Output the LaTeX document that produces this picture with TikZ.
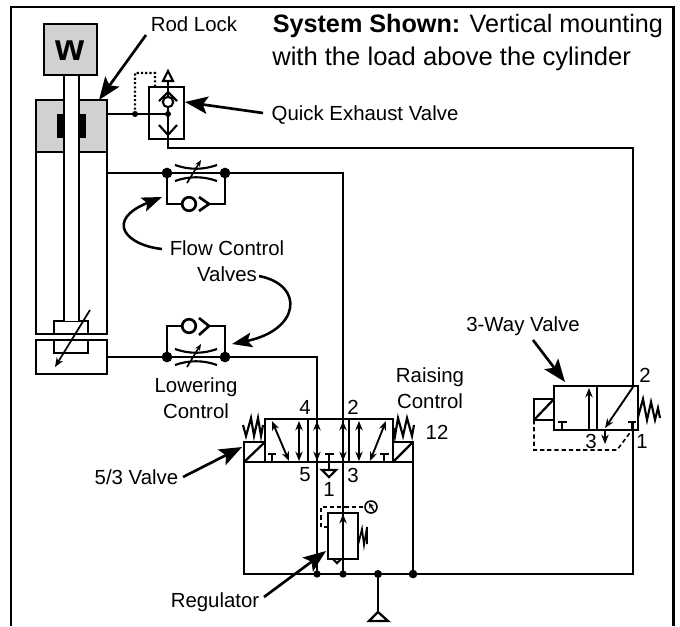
\documentclass[tikz,border=0pt]{standalone}
\usepackage{fontspec}
\setmainfont{Liberation Sans}
\usetikzlibrary{arrows.meta,calc}
\definecolor{lockgray}{gray}{0.82}
\tikzset{
 x=0.75pt,y=-0.75pt,
 frameline/.style={line width=2.2pt,draw=black},
 pipe/.style={line width=1.6pt,draw=black},
 thin pipe/.style={line width=1.3pt,draw=black},
 box/.style={line width=1.7pt,draw=black},
 heavy/.style={line width=2pt,draw=black},
 dash pilot/.style={line width=1.2pt,draw=black,dash pattern=on 3.2pt off 2.2pt},
 dot pilot/.style={line width=1.6pt,draw=black,dash pattern=on 1.6pt off 1.6pt},
 leader/.style={line width=2pt,draw=black,-{Stealth[length=17pt,width=13pt,inset=3.5pt]}},
 curved leader/.style={line width=1.9pt,draw=black,-{Stealth[length=15pt,width=11pt,inset=3pt]}},
 flowarrow/.style={line width=1.4pt,draw=black,{Stealth[length=7pt,width=5.5pt]}-{Stealth[length=7pt,width=5.5pt]}},
 onearrow/.style={line width=1.4pt,draw=black,-{Stealth[length=7pt,width=5.5pt]}},
 joint/.style={circle,fill=black,inner sep=0pt,minimum size=4.5pt},
 bigjoint/.style={circle,fill=black,inner sep=0pt,minimum size=8pt},
 midjoint/.style={circle,fill=black,inner sep=0pt,minimum size=6pt},
 lab/.style={inner sep=0pt,font=\fontsize{15.3pt}{18pt}\selectfont,align=center},
 title/.style={inner sep=0pt,anchor=base west,font=\fontsize{19.2pt}{23pt}\selectfont},
}
\newcommand{\needle}[2]{%
 \draw[pipe] (#1-21,#2-8) .. controls (#1-7,#2-3) and (#1+7,#2-3) .. (#1+21,#2-8);
 \draw[pipe] (#1-21,#2+8) .. controls (#1-7,#2+3) and (#1+7,#2+3) .. (#1+21,#2+8);
 \draw[line width=1.2pt,-{Stealth[length=5pt,width=4pt]}] (#1-9,#2+10) -- (#1+5,#2-13);
}
\begin{document}
\begin{tikzpicture}
\useasboundingbox (0,0) rectangle (680,626);
% frame
\draw[frameline] (11,626) -- (11,7) -- (673.5,7) -- (673.5,626);
% junction names
\coordinate (lockout) at (107,114);
\coordinate (qevcentre) at (168,114);
\coordinate (upperleft) at (107,173);
\coordinate (lowerleft) at (107,357);
\coordinate (mainleft) at (244,574);
\coordinate (mainright) at (633,574);
% cylinder
\draw[box,fill=lockgray] (44,24) rectangle (97,75);
\node[inner sep=0pt,font=\fontsize{28pt}{28pt}\bfseries\selectfont] (w) at (70.5,50.5) {w};
\draw[box] (36,152) rectangle (107,334);
\draw[box,fill=lockgray] (36,100) rectangle (107,152);
\fill[black] (57,114) rectangle (64,138);
\fill[black] (79,114) rectangle (86,138);
\draw[box,fill=white] (54,321) rectangle (88,334);
\draw[box] (36,340) rectangle (107,374);
\draw[box] (54,340) rectangle (88,353);
\fill[white] (64.5,75.8) rectangle (78.5,321);
\draw[box] (64,75) -- (64,321);
\draw[box] (79,75) -- (79,321);
\draw[line width=1.3pt,-{Stealth[length=7pt,width=5.5pt]}] (90,310) -- (55,367);
% Quick exhaust valve
\draw[box] (149,87) rectangle (184,139);
\draw[pipe] (lockout) -- node[pos=0.46,joint] (qj) {} (qevcentre) node[joint] {};
\draw[dot pilot] (qj.center) -- (135,73) -- (155,73) -- (155,87);
\draw[pipe] (168,81) -- (168,97);
\draw[pipe,fill=white] (168,71) -- (163,81) -- (173,81) -- cycle;
\draw[pipe,fill=white] (168,102) circle (5.2);
\draw[pipe] (159,101) -- (168,92) -- (177,101);
\draw[pipe] (168,107) -- (168,148) -- (mainright |- 0,148) -- (633,386);
\draw[pipe] (159,125) -- (168,135) -- (177,125);
% upper flow control
\coordinate (fu1) at (167,173);
\coordinate (fu2) at (225,173);
\coordinate (topdrop) at (343,173);
\draw[thin pipe] (upperleft) -- (topdrop) -- (343,574);
\draw[heavy] (fu1) -- (167,204) -- (182,204);
\draw[heavy] (208,204) -- (225,204) -- (fu2);
\draw[heavy] (199,197) -- (209,204) -- (199,211);
\draw[heavy] (189,204) circle (6.8);
\node[bigjoint] at (fu1) {};
\node[bigjoint] at (fu2) {};
\needle{196}{173}
% lower flow control
\coordinate (fl1) at (167,357);
\coordinate (fl2) at (225,357);
\coordinate (lowdrop) at (317,357);
\draw[thin pipe] (lowerleft) -- (lowdrop) -- (317,574);
\draw[heavy] (fl1) -- (167,326) -- (182,326);
\draw[heavy] (208,326) -- (225,326) -- (fl2);
\draw[heavy] (199,318) -- (209,326) -- (199,335);
\draw[heavy] (189,326) circle (6.8);
\node[bigjoint] at (fl1) {};
\node[bigjoint] at (fl2) {};
\needle{196}{357}
% 5/3 valve
\draw[box] (265,419) rectangle (393,462);
\draw[box] (244,462) -- (413,462);
\draw[box] (308,419) -- (308,462);
\draw[box] (349,419) -- (349,462);
\draw[box] (244,442) rectangle (265,462);
\draw[box] (244,462) -- (265,442);
\draw[box] (393,442) rectangle (413,462);
\draw[box] (393,462) -- (413,442);
\draw[pipe,line join=miter] (243,425) -- (246,436) -- (251,418) -- (254,436) -- (258,418) -- (261,436) -- (263,425);
\draw[pipe,line join=miter] (414,425) -- (412,436) -- (407,418) -- (403,436) -- (398,418) -- (395,436) -- (394,428);
\draw[flowarrow] (272,421) -- (289,461);
\draw[flowarrow] (299,421) -- (299,461);
\draw[flowarrow] (317,421) -- (317,461);
\draw[flowarrow] (343,421) -- (343,461);
\draw[flowarrow] (359,421) -- (359,461);
\draw[flowarrow] (386,421) -- (370,461);
\draw[line width=2pt] (272,462) -- (272,455);
\draw[line width=1.8pt] (268,454) -- (276,454);
\draw[line width=2pt] (384,462) -- (384,455);
\draw[line width=1.8pt] (380,454) -- (389,454);
\draw[line width=1.2pt] (329,454) -- (329,470);
\draw[line width=1.8pt] (325,454) -- (334,454);
\draw[pipe] (322,470) -- (336,470) -- (329,477) -- cycle;
\draw[box] (244,462) -- (mainleft) -- (mainright) -- (633,422);
\draw[box] (413,462) -- (413,574);
\node[joint,minimum size=5.5pt] (j1) at (317,574) {};
\node[joint,minimum size=5.5pt] (j2) at (343,574) {};
\node[midjoint] (j3) at (378,574) {};
\node[bigjoint,minimum size=6.5pt] (j4) at (413,574) {};
\coordinate (tri) at (378,612);
\draw[pipe] (j3) -- (tri);
\draw[box] (tri) -- (369,621) -- (388,621) -- cycle;
% regulator
\draw[box] (328,513) rectangle (358,559);
\draw[onearrow] (343,540) -- (343,514);
\draw[pipe] (333,559) -- (337,563) -- (341,559);
\draw[dash pilot] (328,527) -- (321,527) -- (321,507) -- (365,507);
\draw[line width=1.2pt] (371,507) circle (6);
\draw[line width=1pt,-{Stealth[length=4pt,width=4pt]}] (374,511) -- (369,503);
\draw[line width=1.3pt,line join=miter] (358,545) -- (362,529) -- (364,545) -- (367,527) -- (367,544);
% 3-way valve
\draw[box] (554,386) rectangle (638,430);
\draw[box] (597,386) -- (597,430);
\draw[box] (534,399) rectangle (554,420);
\draw[box] (534,420) -- (554,399);
\draw[onearrow] (589,430) -- (589,388);
\draw[onearrow] (633,387) -- (605,428);
\draw[onearrow] (605,429) -- (605,444);
\draw[line width=2pt] (562,430) -- (562,423);
\draw[line width=1.8pt] (558,422) -- (567,422);
\draw[line width=2pt] (632,430) -- (632,423);
\draw[line width=1.8pt] (628,422) -- (636,422);
\draw[dash pilot] (534,420) -- (534,450) -- (617,450) -- (632,430);
\draw[pipe,line join=miter] (638,417) -- (643,399) -- (647,420) -- (651,402) -- (655,420) -- (658,408) -- (660,418);
% labels
\node[lab] (rodlock) at (194,24) {Rod Lock};
\node[title] (sys1) at (272.5,32) {\fontsize{18.9pt}{23pt}\selectfont{\bfseries System Shown:} Vertical mounting};
\node[title] (sys2) at (272,65) {with the load above the cylinder};
\node[lab] (qev) at (365,115) {Quick Exhaust Valve};
\node[lab] (fcv) at (227,261) {Flow Control\\[1.5pt]Valves};
\node[lab] (lowering) at (196,398) {Lowering\\[1.5pt]Control};
\node[lab] (raising) at (430,388) {Raising\\[1.5pt]Control};
\node[lab] (threeway) at (523,326) {3-Way Valve};
\node[lab] (fivethree) at (136.5,477) {5/3 Valve};
\node[lab] (regulator) at (215,602) {Regulator};
\node[lab] at (305,407) {4};
\node[lab] at (353,407) {2};
\node[lab] at (305,475) {5};
\node[lab] at (353,475) {3};
\node[lab] at (329,489) {1};
\node[lab] at (437,432) {12};
\node[lab] at (645,375) {2};
\node[lab] at (591,441) {3};
\node[lab] at (642,441) {1};
% leaders
\coordinate (rodtip) at (99,100);
\coordinate (qevtip) at (185,102);
\coordinate (rodstart) at (146,35);
\coordinate (qevstart) at (263,113);
\draw[leader] (rodstart) -- (rodtip);
\draw[leader] (qevstart) -- (qevtip);
\coordinate (fc1start) at (162,249);
\coordinate (fc1tip) at (162,197);
\coordinate (fc2start) at (259,276);
\coordinate (fc2tip) at (232,344);
\draw[curved leader] (fc1start) .. controls (125,245) and (105,220) .. (fc1tip);
\draw[curved leader] (fc2start) .. controls (305,285) and (300,330) .. (fc2tip);
\coordinate (wtip) at (565,382);
\coordinate (wstart) at (533,340);
\draw[leader] (wstart) -- (wtip);
\coordinate (vstart) at (183,477);
\coordinate (vtip) at (242,447);
\draw[leader] (vstart) -- (vtip);
\coordinate (rstart) at (264,597);
\coordinate (rtip) at (326,551);
\draw[leader] (rstart) -- (rtip);
\end{tikzpicture}
\end{document}
